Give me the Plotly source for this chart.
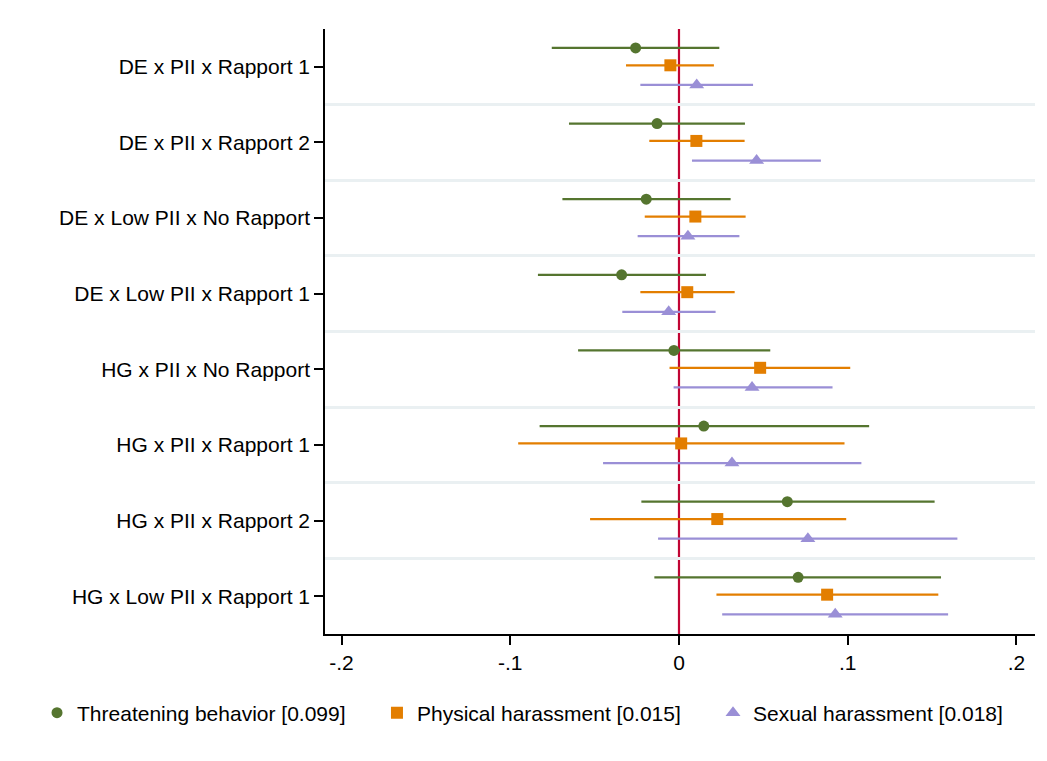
import plotly.graph_objects as go

categories = ["DE x PII x Rapport 1", "DE x PII x Rapport 2", "DE x Low PII x No Rapport",
              "DE x Low PII x Rapport 1", "HG x PII x No Rapport", "HG x PII x Rapport 1",
              "HG x PII x Rapport 2", "HG x Low PII x Rapport 1"]

threat_est = [-0.0257, -0.0130, -0.0194, -0.0340, -0.0030, 0.0147, 0.0642, 0.0706]
threat_lo = [-0.0754, -0.0652, -0.0691, -0.0836, -0.0598, -0.0826, -0.0223, -0.0146]
threat_hi = [0.0239, 0.0391, 0.0306, 0.0160, 0.0541, 0.1127, 0.1515, 0.1553]

phys_est = [-0.0051, 0.0103, 0.0097, 0.0049, 0.0481, 0.0013, 0.0227, 0.0878]
phys_lo = [-0.0314, -0.0176, -0.0203, -0.0229, -0.0056, -0.0953, -0.0527, 0.0222]
phys_hi = [0.0207, 0.0389, 0.0395, 0.0330, 0.1015, 0.0981, 0.0991, 0.1537]

sex_est = [0.0105, 0.0460, 0.0053, -0.0061, 0.0433, 0.0314, 0.0764, 0.0926]
sex_lo = [-0.0229, 0.0077, -0.0245, -0.0336, -0.0032, -0.0450, -0.0124, 0.0256]
sex_hi = [0.0439, 0.0841, 0.0358, 0.0217, 0.0910, 0.1081, 0.1650, 0.1595]

series_names = ["Threatening behavior [0.099]", "Physical harassment [0.015]", "Sexual harassment [0.018]"]
x_ticks = [-0.2, -0.1, 0, 0.1, 0.2]
x_ticklabels = ["-.2", "-.1", "0", ".1", ".2"]

FONT = "Liberation Sans, Arial, Helvetica, sans-serif"
offsets = [-0.25, -0.02, 0.24]
colors = ["#55752f", "#e37e00", "#9a8fd6"]
symbols = ["circle", "square", "triangle-up"]
sizes = [11, 12, 13]
legend_ids = ["legend", "legend2", "legend3"]
legend_x = [-0.4056, 0.0732, 0.5465]

fig = go.Figure()
data = [(threat_est, threat_lo, threat_hi), (phys_est, phys_lo, phys_hi), (sex_est, sex_lo, sex_hi)]
for k, (est, lo, hi) in enumerate(data):
    ys = [i + offsets[k] for i in range(len(categories))]
    fig.add_trace(go.Scatter(
        x=est, y=ys, mode="markers", name=series_names[k], legend=legend_ids[k],
        marker=dict(color=colors[k], symbol=symbols[k], size=sizes[k], line=dict(width=0)),
        error_x=dict(type="data", symmetric=False,
                     array=[h - e for h, e in zip(hi, est)],
                     arrayminus=[e - l for e, l in zip(est, lo)],
                     color=colors[k], thickness=2.2, width=0),
    ))

fig.add_vline(x=0, line=dict(color="#c10534", width=2.2), layer="below")

legend_common = dict(orientation="h", yanchor="middle", y=-0.1306, xanchor="left",
                     font=dict(size=21, family=FONT), itemwidth=30, bgcolor="rgba(0,0,0,0)")

fig.update_layout(
    width=1039, height=753,
    paper_bgcolor="white", plot_bgcolor="white",
    margin=dict(l=317, r=12, t=21, b=127),
    font=dict(family=FONT, size=21, color="black"),
    showlegend=True,
    legend=dict(x=legend_x[0], **legend_common),
    legend2=dict(x=legend_x[1], **legend_common),
    legend3=dict(x=legend_x[2], **legend_common),
    xaxis=dict(range=[-0.2098, 0.211], tickvals=x_ticks, ticktext=x_ticklabels,
               showgrid=False, zeroline=False, showline=True, linecolor="black", linewidth=1.5,
               ticks="outside", ticklen=9, tickwidth=1.5, tickcolor="black",
               tickfont=dict(size=21)),
    yaxis=dict(range=[7.5, -0.5], tickvals=list(range(len(categories))), ticktext=categories,
               showgrid=False, zeroline=False, showline=True, linecolor="black", linewidth=1.5,
               ticks="outside", ticklen=9, tickwidth=1.5, tickcolor="black",
               tickfont=dict(size=21),
               minor=dict(tickvals=[i + 0.5 for i in range(len(categories) - 1)], showgrid=True,
                          gridcolor="#eaf0f2", gridwidth=2.5, ticks="")),
)

fig.write_html("out.html")
